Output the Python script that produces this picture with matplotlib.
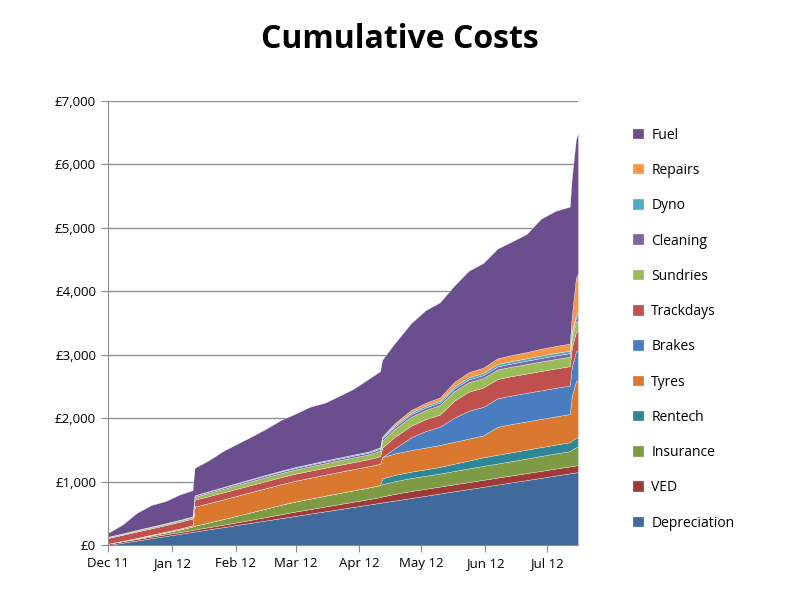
import pandas as pd
import matplotlib
matplotlib.use("Agg")
import matplotlib.pyplot as plt
import matplotlib.dates as mdates
from matplotlib.ticker import FuncFormatter

plt.rcParams['font.family'] = ['Open Sans', 'DejaVu Sans']

dates = pd.to_datetime([
    "2011-12-01", "2011-12-08", "2011-12-15", "2011-12-22", "2011-12-29",
    "2012-01-05", "2012-01-11", "2012-01-12", "2012-01-19", "2012-01-26",
    "2012-02-02", "2012-02-09", "2012-02-16", "2012-02-23", "2012-03-01",
    "2012-03-08", "2012-03-15", "2012-03-22", "2012-03-29", "2012-04-05",
    "2012-04-11", "2012-04-12", "2012-04-18", "2012-04-26", "2012-05-03",
    "2012-05-10", "2012-05-17", "2012-05-24", "2012-05-31", "2012-06-07",
    "2012-06-14", "2012-06-21", "2012-06-28", "2012-07-05", "2012-07-12",
    "2012-07-13", "2012-07-15", "2012-07-16"])

depreciation = [0, 35, 70, 106, 141, 176, 207, 212, 247, 282, 318, 353, 388, 423, 459,
                494, 529, 564, 600, 635, 665, 670, 700, 741, 776, 811, 847, 882, 917, 953,
                988, 1023, 1058, 1094, 1129, 1134, 1144, 1150]
ved = [20, 22, 24, 26, 27, 28, 30, 32, 35, 38, 42, 48, 55, 62, 68,
       72, 76, 80, 82, 85, 90, 95, 105, 110, 110, 110, 110, 110, 110, 110,
       110, 110, 110, 110, 110, 110, 110, 110]
insurance = [0, 5, 12, 20, 30, 42, 55, 60, 75, 90, 105, 120, 135, 150, 160,
             165, 170, 175, 180, 185, 190, 195, 200, 205, 205, 205, 210, 215, 220, 222,
             225, 230, 235, 238, 240, 260, 285, 290]
rentech = [0, 0, 0, 0, 0, 0, 0, 0, 0, 0, 0, 0, 0, 0, 0,
           0, 0, 0, 0, 0, 0, 90, 100, 100, 102, 105, 115, 125, 135, 138,
           140, 140, 140, 140, 140, 145, 150, 150]
tyres = [0, 3, 6, 10, 13, 16, 20, 300, 305, 310, 315, 320, 322, 325, 328,
         330, 332, 333, 334, 335, 335, 335, 338, 340, 342, 345, 345, 345, 345, 440,
         445, 445, 445, 445, 445, 700, 890, 900]
brakes = [0, 0, 0, 0, 0, 0, 0, 0, 0, 0, 0, 0, 0, 0, 0,
          0, 0, 0, 0, 0, 0, 0, 80, 200, 260, 290, 380, 440, 450, 450,
          450, 450, 450, 450, 450, 460, 475, 475]
trackdays = [90, 95, 100, 100, 102, 105, 105, 110, 110, 110, 110, 110, 110, 110, 110,
             110, 110, 110, 110, 110, 120, 150, 180, 185, 188, 190, 270, 300, 305, 305,
             305, 305, 305, 305, 305, 305, 305, 305]
sundries = [10, 12, 15, 18, 20, 22, 25, 45, 50, 55, 58, 60, 62, 64, 66,
            68, 70, 72, 74, 75, 85, 110, 125, 140, 145, 150, 150, 150, 150, 150,
            150, 150, 150, 150, 150, 155, 160, 160]
cleaning = [10, 10, 10, 10, 10, 10, 10, 20, 21, 22, 23, 24, 25, 25, 26,
            26, 27, 27, 28, 28, 30, 32, 35, 38, 39, 40, 42, 44, 45, 48,
            50, 52, 55, 55, 55, 57, 60, 60]
dyno = [0, 0, 0, 0, 0, 0, 0, 5, 6, 8, 10, 11, 12, 13, 14,
        15, 16, 17, 17, 18, 20, 22, 25, 28, 29, 30, 32, 35, 38, 38,
        38, 38, 40, 40, 40, 42, 50, 50]
repairs = [0, 0, 0, 0, 0, 0, 0, 0, 0, 0, 0, 0, 0, 0, 0,
           0, 0, 0, 0, 0, 5, 10, 30, 40, 45, 50, 70, 78, 80, 90,
           95, 98, 105, 110, 110, 250, 580, 630]
fuel = [60, 140, 270, 340, 350, 400, 410, 430, 490, 570, 620, 670, 730, 800, 840,
        900, 910, 970, 1035, 1140, 1200, 1210, 1260, 1370, 1460, 1500, 1520, 1600, 1650, 1730,
        1790, 1860, 2050, 2130, 2160, 2170, 2190, 2210]

labels = ["Depreciation", "VED", "Insurance", "Rentech", "Tyres", "Brakes",
          "Trackdays", "Sundries", "Cleaning", "Dyno", "Repairs", "Fuel"]
colors = ["#40699C", "#9E3B39", "#7E9A44", "#2E8797", "#D9782E", "#4A7DBF",
          "#C0504D", "#9BBB59", "#8064A2", "#4BACC6", "#F79646", "#6B4E8E"]

fig = plt.figure(figsize=(8, 6), dpi=100)
ax = fig.add_axes([0.135, 0.0917, 0.5875, 0.74])

polys = ax.stackplot(dates, depreciation, ved, insurance, rentech, tyres, brakes,
                     trackdays, sundries, cleaning, dyno, repairs, fuel,
                     labels=labels, colors=colors, edgecolor="white", linewidth=0.2)

ax.set_ylim(0, 7000)
ax.set_xlim(dates[0], dates[-1])
ax.set_yticks(range(0, 7001, 1000))
ax.yaxis.set_major_formatter(FuncFormatter(lambda v, p: "£{:,.0f}".format(v)))
ax.xaxis.set_major_locator(mdates.MonthLocator())
ax.xaxis.set_major_formatter(mdates.DateFormatter("%b %y"))
ax.grid(axis="y", color="#8C8C8C", linewidth=0.9)
ax.set_axisbelow(True)
for s in ["top", "right"]:
    ax.spines[s].set_visible(False)
for s in ["left", "bottom"]:
    ax.spines[s].set_color("#8C8C8C")
ax.tick_params(axis="both", colors="#8C8C8C", labelcolor="black", labelsize=9.5, length=5)

handles = polys[::-1]
fig.legend(handles, labels[::-1], loc="upper left", bbox_to_anchor=(0.776, 0.808),
           frameon=False, fontsize=10, handlelength=0.8, handleheight=0.8,
           handletextpad=0.5, labelspacing=1.46)

fig.suptitle("Cumulative Costs", x=0.5, y=0.962, fontsize=23, fontweight="bold")
fig.savefig("out.png", dpi=100)
